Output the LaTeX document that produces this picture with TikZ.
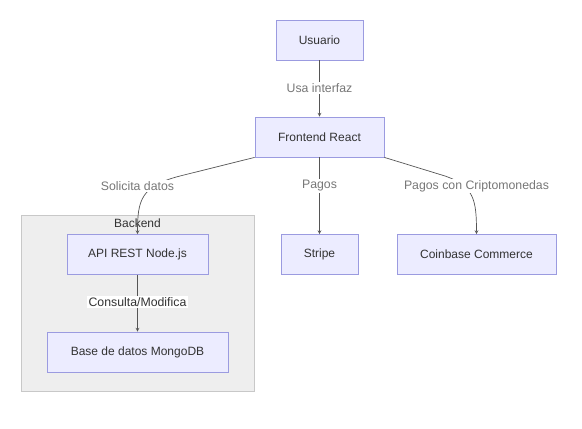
\documentclass[tikz,border=0pt]{standalone}
\usepackage{fontspec}
\setmainfont{Liberation Sans}
\usetikzlibrary{positioning}
\definecolor{nodefill}{HTML}{ECECFF}
\definecolor{nodeline}{HTML}{9B9BE0}
\definecolor{groupfill}{HTML}{EEEEEE}
\definecolor{groupline}{HTML}{C8C8C8}
\definecolor{edgeline}{HTML}{555555}
\definecolor{labeltext}{HTML}{777777}
\definecolor{nodetext}{HTML}{333333}
\tikzset{
  box/.style={rectangle, draw=nodeline, fill=nodefill, line width=0.8pt, text=nodetext, font=\fontsize{12}{14}\selectfont, minimum height=40pt, inner sep=0pt},
  edgelabel/.style={fill=white, text=labeltext, font=\fontsize{12.3}{14}\selectfont, inner sep=1.5pt},
  edge/.style={->, >=stealth, draw=edgeline, line width=0.7pt}
}
\begin{document}
\begin{tikzpicture}[x=1pt, y=-1pt]
\useasboundingbox (0,0) rectangle (582,429);

%Backend
\node[rectangle, draw=groupline, fill=groupfill, line width=0.7pt, minimum width=233pt, minimum height=176pt] (backend) at (137.5,303) {};
\node[text=nodetext, font=\fontsize{12}{14}\selectfont] (backendlabel) at (137.5,223) {Backend};

%Usuario
\node[box, minimum width=87pt] (usuario) at (319.5,40) {Usuario};

%Frontend
\node[box, minimum width=129pt] (front) at (319.5,137) {Frontend React};

%API
\node[box, minimum width=141pt] (api) at (137.5,254.5) {API REST Node.js};

%MongoDB
\node[box, minimum width=181pt] (mongo) at (137.5,352) {Base de datos MongoDB};

%Stripe
\node[box, minimum width=77pt] (stripe) at (319.5,254.5) {Stripe};

%Coinbase
\node[box, minimum width=159pt] (coinbase) at (476.5,254.5) {Coinbase Commerce};

%Edges
\draw[edge] (usuario) -- (front);
\draw[edge] (front.south west) -- (180,176) .. controls (141,186) and (137.5,200) .. (api.north);
\draw[edge] (front) -- (stripe);
\draw[edge] (front.south east) -- (445,176) .. controls (474,186) and (476.5,200) .. (coinbase.north);
\draw[edge] (api) -- (mongo);

%Labels
\node[edgelabel] (usa) at (319.5,88) {Usa interfaz};
\node[edgelabel] (solicita) at (137.5,186) {Solicita datos};
\node[edgelabel] (pagos) at (319.5,186) {Pagos};
\node[edgelabel] (cripto) at (476.5,186) {Pagos con Criptomonedas};
\node[edgelabel, text=nodetext] (consulta) at (137.5,302) {Consulta/Modifica};

\end{tikzpicture}
\end{document}
